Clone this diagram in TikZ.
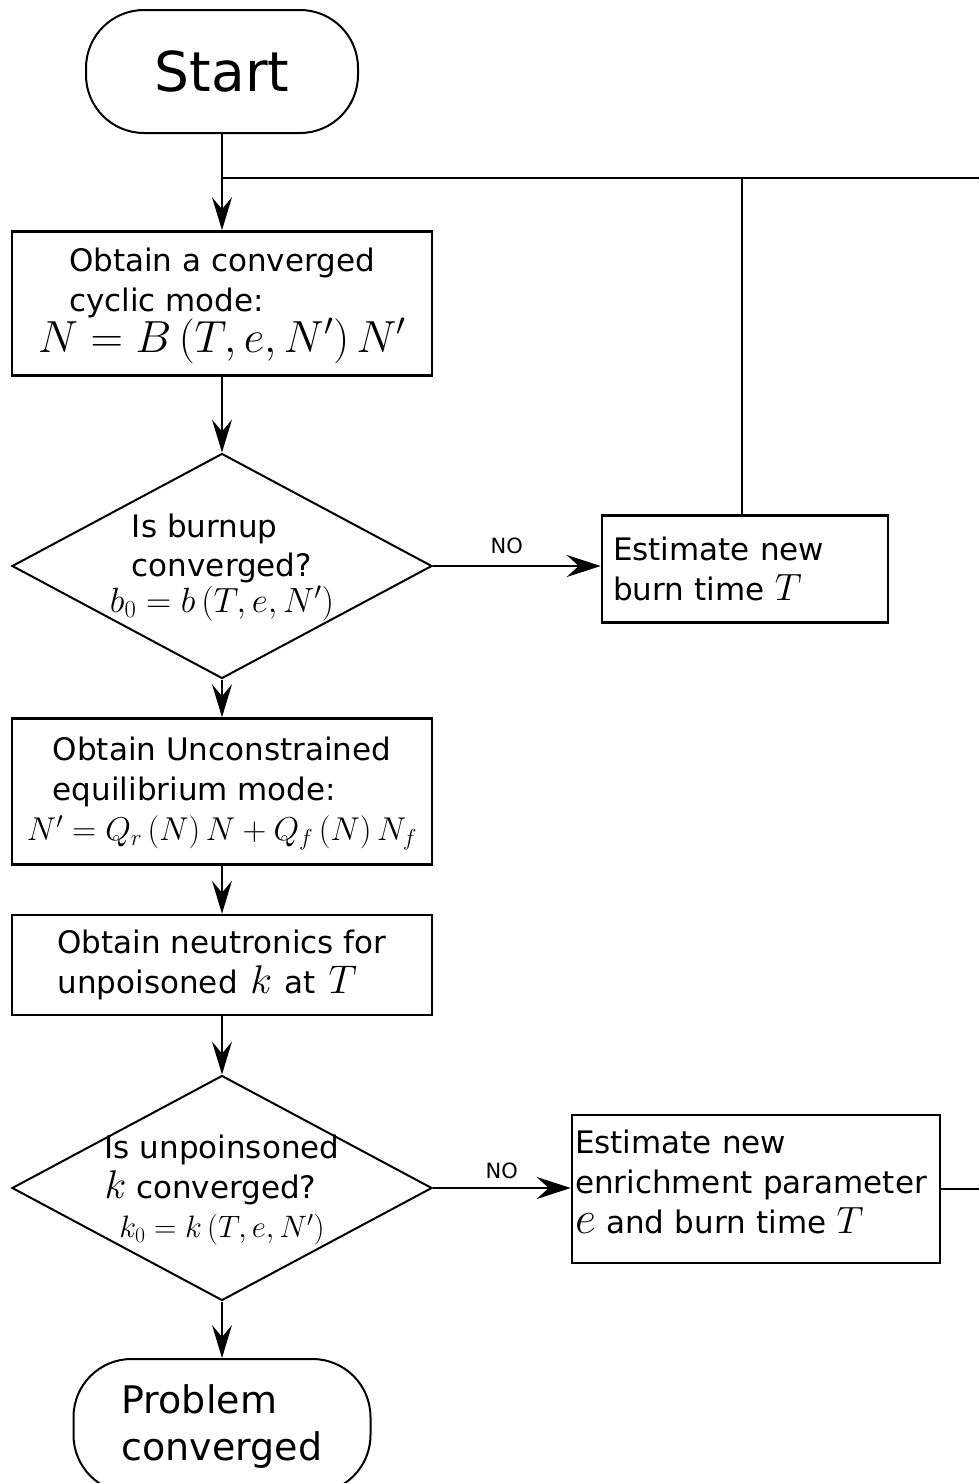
\RequirePackage{fix-cm}
\documentclass[tikz,border=0pt]{standalone}
\usepackage[no-math]{fontspec}
\setmainfont{DejaVu Sans}
\usetikzlibrary{shapes.geometric,arrows.meta}
\newcommand\bodyfont{\fontsize{31}{40}\selectfont}
\begin{document}
\begin{tikzpicture}[x=1pt,y=-1pt,
  proc/.style={draw, rectangle, line width=2.6pt, inner sep=0pt, font=\bodyfont, align=center},
  term/.style={draw, rectangle, rounded corners=58pt, line width=2pt, inner sep=0pt, align=left},
  dec/.style={draw, diamond, line width=2pt, inner sep=-14pt, shape aspect=1.87,
    minimum width=420pt, minimum height=225pt, font=\bodyfont, align=center},
  conn/.style={line width=2pt},
  arr/.style={line width=2pt, -{Stealth[length=33pt,width=20pt,inset=12pt]}},
  arrno/.style={line width=2.8pt, -{Stealth[length=34pt,width=22pt,inset=12pt]}},
  lab/.style={font=\fontsize{21}{21}\selectfont, inner sep=0pt}
]
\path[use as bounding box] (0,0) rectangle (979,1483);
\clip (0,0) rectangle (979,1483);

\node[term, minimum width=272pt, minimum height=123pt, font=\fontsize{55}{60}\selectfont] (start) at (222,71.5) {Start};

\node[proc, minimum width=420pt, minimum height=144pt] (b1) at (222,303.5)
  {\begin{tabular}{@{}l@{}}Obtain a converged\\cyclic mode:\end{tabular}\\[-6pt]
   {\fontsize{45}{45}\selectfont $N=B\left(T,e,N'\right)N'$}};

\node[dec] (d1) at (222,566)
  {\begin{tabular}{@{}l@{}}Is burnup\\[-1pt]converged?\end{tabular}\\[-4pt]
   {\fontsize{35}{35}\selectfont $b_0=b\left(T,e,N'\right)$}\\[-30pt]\mbox{}};

\node[proc, minimum height=107pt, text width=264pt, inner sep=11pt, align=left] (est1) at (745,569)
  {Estimate new\\burn time{\fontsize{38}{38}\selectfont\ $T$}};

\node[proc, minimum width=420pt, minimum height=146pt] (b3) at (222,791.5)
  {\begin{tabular}{@{}l@{}}Obtain Unconstrained\\equilibrium mode:\end{tabular}\\[2pt]
   {\fontsize{33}{33}\selectfont $N'=Q_r\left(N\right)N+Q_f\left(N\right)N_f$}};

\node[proc, minimum width=420pt, minimum height=100pt] (b4) at (222,965)
  {\begin{tabular}{@{}l@{}}Obtain neutronics for\\unpoisoned{\fontsize{40}{40}\selectfont\ $k$\ }at{\fontsize{40}{40}\selectfont\ $T$}\end{tabular}};

\node[dec] (d2) at (222,1188)
  {\begin{tabular}{@{}l@{}}Is unpoinsoned\\{\fontsize{40}{40}\selectfont $k$} converged?\end{tabular}\\[3pt]
   {\fontsize{31}{31}\selectfont $k_0=k\left(T,e,N'\right)$}};

\node[proc, minimum height=148pt, text width=362pt, inner sep=3pt, align=left] (est2) at (756,1189)
  {Estimate new\\enrichment parameter\\{\fontsize{46}{46}\selectfont $e$} and burn time{\fontsize{38}{38}\selectfont\ $T$}\\[-26pt]\mbox{}};

\node[term, minimum width=297pt, minimum height=134pt, font=\fontsize{38}{47}\selectfont] (stop) at (222,1426)
  {Problem\\converged};

% connectors
\coordinate (j) at (222,178);
\draw[arr] (start) -- (b1);
\draw[line width=2.5pt] (est2.east) -- ++(80,0) |- (j);
\draw[conn] ([xshift=-3pt]est1.north) -- ([xshift=-3pt]est1.north |- j);
\draw[arr] (b1) -- (d1);
\draw[arrno] (d1.east) -- node[lab, pos=0.44, above=11pt] (no1) {NO} (d1.east -| est1.west);
\draw[arr] (d1) -- (b3);
\draw[arr] (b3) -- (b4);
\draw[arr] (b4) -- (d2);
\draw[arrno] (d2.east) -- node[lab, pos=0.5, above=8pt] (no2) {NO} (d2.east -| est2.west);
\draw[arr] (d2) -- (stop);
\end{tikzpicture}
\end{document}
